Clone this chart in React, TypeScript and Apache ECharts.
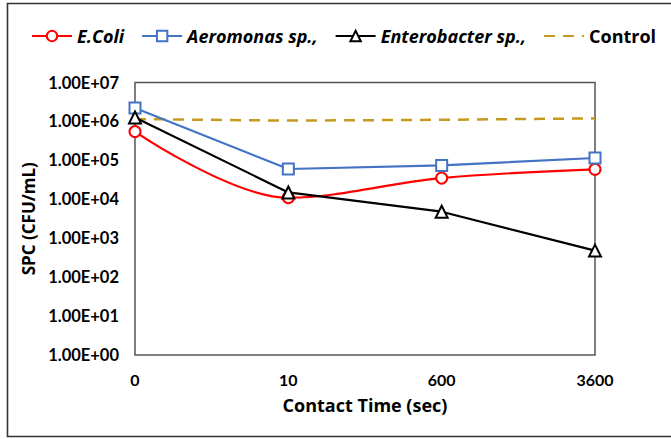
import React, { useEffect, useRef } from "react";
import * as echarts from "echarts";

const categories = ["0", "10", "600", "3600"];
const eColi = [5.5e5, 1.1e4, 3.5e4, 5.9e4];
const aeromonas = [2.2e6, 6.0e4, 7.4e4, 1.15e5];
const enterobacter = [1.26e6, 1.5e4, 4.8e3, 4.8e2];
const control = [1.15e6, 1.05e6, 1.1e6, 1.2e6];

const FONT = "Lato";
const WIDE = "Open Sans";

function fmt(v: number) {
  const e = Math.round(Math.log10(v));
  const s = e < 10 ? "0" + e : String(e);
  return "1.00E+" + s;
}

export default function App() {
  const ref = useRef<HTMLDivElement>(null);
  useEffect(() => {
    document.body.style.margin = "0";
    const chart = echarts.init(ref.current!, undefined, { renderer: "svg" });
    chart.setOption({
      animation: false,
      backgroundColor: "#fff",
      textStyle: { fontFamily: FONT },
      graphic: [
        {
          type: "rect",
          shape: { x: 7.5, y: 3.5, width: 700, height: 433 },
          style: { fill: "none", stroke: "#333", lineWidth: 1.6 },
          silent: true,
        },
      ],
      legend: {
        top: 27,
        left: 31,
        width: 640,
        padding: 0,
        itemWidth: 40,
        itemHeight: 13,
        itemGap: 17,
        textStyle: { fontFamily: WIDE, fontSize: 18, fontWeight: "bold", color: "#000", fontStyle: "italic" },
        data: [
          { name: "E.Coli" },
          { name: "Aeromonas sp.," },
          { name: "Enterobacter sp.," },
          { name: "Control", textStyle: { fontStyle: "normal" }, itemStyle: { opacity: 0 } },
        ],
      },
      grid: {
        left: 135,
        right: 76,
        top: 82.5,
        bottom: 84,
        show: true,
        borderColor: "#555",
        borderWidth: 1.5,
      },
      xAxis: {
        type: "category",
        data: categories,
        boundaryGap: false,
        name: "Contact Time (sec)",
        nameLocation: "middle",
        nameGap: 41,
        nameTextStyle: { fontFamily: WIDE, fontSize: 18, fontWeight: "bold", color: "#000" },
        axisLine: { show: false },
        axisTick: { show: false },
        axisLabel: { fontFamily: FONT, fontSize: 16, fontWeight: "bold", color: "#000", margin: 16 },
        splitLine: { show: false },
      },
      yAxis: {
        type: "log",
        logBase: 10,
        min: 1,
        max: 1e7,
        name: "SPC (CFU/mL)",
        nameLocation: "middle",
        nameGap: 90,
        nameTextStyle: { fontFamily: WIDE, fontSize: 17, fontWeight: "bold", color: "#000" },
        axisLine: { show: false },
        axisTick: { show: false },
        splitLine: { show: false },
        axisLabel: { fontFamily: FONT, fontSize: 16.5, fontWeight: "bold", color: "#000", margin: 16, formatter: (v: number) => fmt(v) },
      },
      series: [
        {
          name: "E.Coli",
          type: "line",
          data: eColi,
          smooth: 0.35,
          symbol: "circle",
          symbolSize: 11,
          itemStyle: { color: "#fff", borderColor: "#ff0000", borderWidth: 2 },
          lineStyle: { color: "#ff0000", width: 2.2 },
          color: "#ff0000",
        },
        {
          name: "Aeromonas sp.,",
          type: "line",
          data: aeromonas,
          symbol: "rect",
          symbolSize: 11,
          itemStyle: { color: "#fff", borderColor: "#4472c4", borderWidth: 2 },
          lineStyle: { color: "#4472c4", width: 2.2 },
          color: "#4472c4",
        },
        {
          name: "Enterobacter sp.,",
          type: "line",
          data: enterobacter,
          symbol: "triangle",
          symbolSize: 12,
          itemStyle: { color: "#fff", borderColor: "#000", borderWidth: 2 },
          lineStyle: { color: "#000", width: 2.2 },
          color: "#000",
        },
        {
          name: "Control",
          type: "line",
          data: control,
          symbol: "none",
          itemStyle: { color: "#c59a1e" },
          lineStyle: { color: "#c59a1e", width: 2.5, type: [11, 8] },
          color: "#c59a1e",
          z: 1,
        },
      ],
    });
    return () => chart.dispose();
  }, []);
  return <div ref={ref} style={{ position: "absolute", left: 0, top: 0, width: 671, height: 439 }} />;
}
